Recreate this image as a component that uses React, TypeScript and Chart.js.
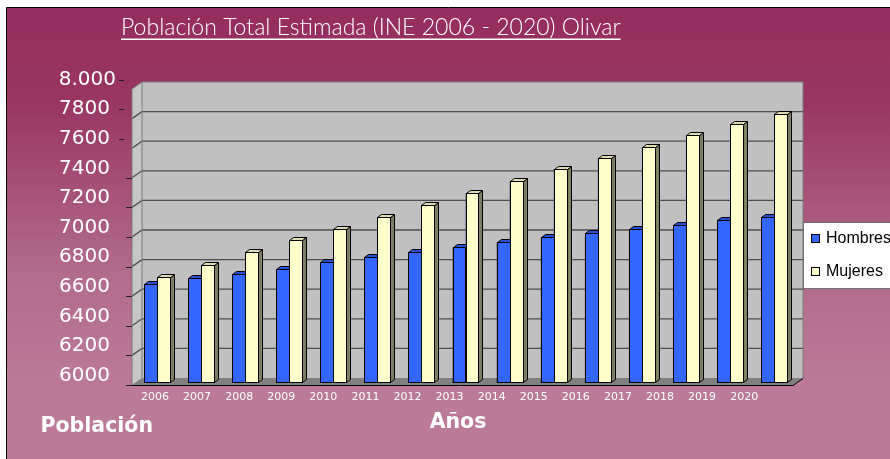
import React, { useEffect, useRef } from "react";
import { Chart, registerables } from "chart.js";

Chart.register(...registerables);

const years = ["2006", "2007", "2008", "2009", "2010", "2011", "2012", "2013", "2014", "2015", "2016", "2017", "2018", "2019", "2020"];
const hombres = [6669, 6707, 6739, 6770, 6815, 6850, 6886, 6917, 6953, 6984, 7016, 7038, 7070, 7103, 7122];
const mujeres = [6714, 6795, 6885, 6964, 7040, 7122, 7205, 7283, 7363, 7446, 7520, 7592, 7673, 7748, 7820];
const seriesNames = ["Hombres", "Mujeres"];
const yTickValues = [6000, 6200, 6400, 6600, 6800, 7000, 7200, 7400, 7600, 7800, 8000];
const yTickLabels = ["6000", "6200", "6400", "6600", "6800", "7000", "7200", "7400", "7600", "7800", "8.000"];
const titleText = "Población Total Estimada (INE 2006 - 2020) Olivar";
const yAxisTitle = "Población";
const xAxisTitle = "Años";

const W = 890;
const H = 459;

const frontColors = ["#3366FF", "#FFFFCC"];
const topColors = ["#2650D6", "#DCDCAE"];
const sideColors = ["#1B3A9E", "#7E7E60"];

// 3D offsets (pixels) of the walls relative to the bar plane
const FRONT_DX = -3, FRONT_DY = 2;
const BACK_DX = 7, BACK_DY = -5;
const BAR_DX = 4, BAR_DY = -3;

const decorPlugin = {
  id: "decor3d",
  beforeDraw(chart: any) {
    const ctx = chart.ctx as CanvasRenderingContext2D;
    const ca = chart.chartArea;
    const ys = chart.scales.y;
    const xs = chart.scales.x;
    ctx.save();
    // page background
    ctx.fillStyle = "#FFFFFF";
    ctx.fillRect(0, 0, W, H);
    const g = ctx.createLinearGradient(0, 8, 0, 390);
    g.addColorStop(0, "#952D5E");
    g.addColorStop(0.25, "#993663");
    g.addColorStop(0.7, "#B26C8E");
    g.addColorStop(1, "#BC7A99");
    ctx.fillStyle = g;
    ctx.fillRect(6, 8, W - 6, H - 8);
    ctx.strokeStyle = "#000";
    ctx.lineWidth = 1;
    ctx.beginPath();
    ctx.moveTo(6.5, H);
    ctx.lineTo(6.5, 7.5);
    ctx.lineTo(W, 7.5);
    ctx.stroke();

    // title (underlined)
    ctx.fillStyle = "#FFFFFF";
    ctx.textBaseline = "alphabetic";
    ctx.textAlign = "left";
    let fs = 20;
    ctx.font = `300 ${fs}px Lato, "DejaVu Sans", sans-serif`;
    const tw0 = ctx.measureText(titleText).width;
    fs = fs * 500 / tw0;
    ctx.font = `300 ${fs}px Lato, "DejaVu Sans", sans-serif`;
    const tw = ctx.measureText(titleText).width;
    const tx = 121;
    ctx.fillText(titleText, tx, 35);
    ctx.fillRect(tx, 38.5, tw, 1.5);

    const y6 = ys.getPixelForValue(6000);
    const y8 = ys.getPixelForValue(8000);
    const fl = ca.left + FRONT_DX, fr = ca.right + FRONT_DX;
    const bl = ca.left + BACK_DX, br = ca.right + BACK_DX;

    // back wall
    ctx.fillStyle = "#C0C0C0";
    ctx.fillRect(bl, y8 + BACK_DY, br - bl, y6 - y8);
    // left wall
    ctx.fillStyle = "#C6C6C6";
    ctx.beginPath();
    ctx.moveTo(fl, y8 + FRONT_DY);
    ctx.lineTo(bl, y8 + BACK_DY);
    ctx.lineTo(bl, y6 + BACK_DY);
    ctx.lineTo(fl, y6 + FRONT_DY);
    ctx.closePath();
    ctx.fill();
    // floor
    ctx.fillStyle = "#808080";
    ctx.beginPath();
    ctx.moveTo(fl, y6 + FRONT_DY);
    ctx.lineTo(fr, y6 + FRONT_DY);
    ctx.lineTo(br, y6 + BACK_DY);
    ctx.lineTo(bl, y6 + BACK_DY);
    ctx.closePath();
    ctx.fill();

    // gridlines
    ctx.strokeStyle = "#4E4E4E";
    ctx.lineWidth = 1.3;
    yTickValues.forEach((v) => {
      if (v === 6000 || v === 8000) return;
      const yy = ys.getPixelForValue(v);
      ctx.beginPath();
      ctx.moveTo(fl, yy + FRONT_DY);
      ctx.lineTo(bl, yy + BACK_DY);
      ctx.lineTo(br, yy + BACK_DY);
      ctx.stroke();
    });
    // wall borders
    ctx.strokeStyle = "#7A7A7A";
    ctx.lineWidth = 1;
    ctx.beginPath();
    ctx.moveTo(fl, y6 + FRONT_DY);
    ctx.lineTo(fl, y8 + FRONT_DY);
    ctx.lineTo(bl, y8 + BACK_DY);
    ctx.lineTo(br, y8 + BACK_DY);
    ctx.lineTo(br, y6 + BACK_DY);
    ctx.moveTo(bl, y8 + BACK_DY);
    ctx.lineTo(bl, y6 + BACK_DY);
    ctx.stroke();
    // axis line at bottom
    ctx.strokeStyle = "#000";
    ctx.lineWidth = 1;
    ctx.beginPath();
    ctx.moveTo(fl - 6, y6 + FRONT_DY + 0.5);
    ctx.lineTo(fr, y6 + FRONT_DY + 0.5);
    ctx.lineTo(br, y6 + BACK_DY + 0.5);
    ctx.stroke();

    // y tick labels and tick marks
    ctx.font = `20px "DejaVu Sans", Verdana, sans-serif`;
    ctx.textBaseline = "middle";
    ctx.textAlign = "right";
    yTickValues.forEach((v, i) => {
      const yy = ys.getPixelForValue(v);
      const ly = yy - 7.5;
      const rx = v === 8000 ? 116 : 110;
      ctx.fillStyle = "#FFFFFF";
      ctx.fillText(yTickLabels[i], rx, ly);
      ctx.strokeStyle = "#222";
      ctx.lineWidth = 1;
      ctx.beginPath();
      if (v >= 7600) {
        ctx.moveTo(119, Math.round(ly) + 0.5);
        ctx.lineTo(124, Math.round(ly) + 0.5);
      } else {
        ctx.moveTo(fl - 6, Math.round(yy + FRONT_DY) + 0.5);
        ctx.lineTo(fl, Math.round(yy + FRONT_DY) + 0.5);
      }
      ctx.stroke();
    });

    // x tick labels
    ctx.font = `11px "DejaVu Sans", Verdana, sans-serif`;
    ctx.textAlign = "center";
    ctx.fillStyle = "#FFFFFF";
    const x0 = xs.getPixelForValue(0);
    years.forEach((yr, i) => {
      const xi = xs.getPixelForValue(i);
      ctx.fillText(yr, x0 - 2 + (xi - x0) * 0.955, 397);
    });

    // axis titles
    ctx.font = `bold 20.5px "DejaVu Sans", Verdana, sans-serif`;
    ctx.textBaseline = "alphabetic";
    ctx.textAlign = "left";
    ctx.fillText(yAxisTitle, 40.5, 432);
    ctx.textAlign = "center";
    ctx.fillText(xAxisTitle, 458, 428);

    // legend
    ctx.fillStyle = "#FFFFFF";
    ctx.fillRect(803.5, 222.5, 100, 66);
    ctx.strokeStyle = "#6E6E6E";
    ctx.lineWidth = 1;
    ctx.strokeRect(803.5, 222.5, 100, 66);
    ctx.font = `16px "Liberation Sans", Arial, sans-serif`;
    ctx.textAlign = "left";
    ctx.textBaseline = "middle";
    chart.data.datasets.forEach((ds: any, k: number) => {
      const cy = k === 0 ? 238.5 : 271.5;
      ctx.fillStyle = ds.backgroundColor;
      ctx.fillRect(811.5, cy - 4, 8, 8);
      ctx.strokeStyle = "#000";
      ctx.strokeRect(811.5, cy - 4, 8, 8);
      ctx.fillStyle = "#000";
      ctx.fillText(ds.label, 826, cy + 0.5);
    });
    ctx.restore();
  },
  afterDatasetsDraw(chart: any) {
    const ctx = chart.ctx as CanvasRenderingContext2D;
    const ys = chart.scales.y;
    const floorY = ys.getPixelForValue(6000);
    ctx.save();
    ctx.strokeStyle = "#000";
    ctx.lineWidth = 1;
    ctx.lineJoin = "miter";
    const n = chart.data.labels.length;
    for (let i = 0; i < n; i++) {
      chart.data.datasets.forEach((_ds: any, d: number) => {
        const el = chart.getDatasetMeta(d).data[i] as any;
        const { x, y, width, base } = el.getProps(["x", "y", "width", "base"], true);
        const l = Math.round(x - width / 2) + 0.5;
        const r = Math.round(x + width / 2) + 0.5;
        const t = Math.round(y) + 0.5;
        const b = Math.round(Math.min(base, floorY)) - 0.5;
        // side
        ctx.fillStyle = sideColors[d];
        ctx.beginPath();
        ctx.moveTo(r, t);
        ctx.lineTo(r + BAR_DX, t + BAR_DY);
        ctx.lineTo(r + BAR_DX, b + BAR_DY);
        ctx.lineTo(r, b);
        ctx.closePath();
        ctx.fill();
        ctx.stroke();
        // top
        ctx.fillStyle = topColors[d];
        ctx.beginPath();
        ctx.moveTo(l, t);
        ctx.lineTo(l + BAR_DX, t + BAR_DY);
        ctx.lineTo(r + BAR_DX, t + BAR_DY);
        ctx.lineTo(r, t);
        ctx.closePath();
        ctx.fill();
        ctx.stroke();
        // front
        ctx.fillStyle = frontColors[d];
        ctx.fillRect(l, t, r - l, b - t);
        ctx.strokeRect(l, t, r - l, b - t);
      });
    }
    ctx.restore();
  },
};

export default function App() {
  const ref = useRef<HTMLCanvasElement | null>(null);
  useEffect(() => {
    if (!ref.current) return;
    const chart = new Chart(ref.current, {
      type: "bar",
      data: {
        labels: years,
        datasets: [
          { label: seriesNames[0], data: hombres, base: 6000, backgroundColor: frontColors[0], borderColor: "#000", borderWidth: 1 },
          { label: seriesNames[1], data: mujeres, base: 6000, backgroundColor: frontColors[1], borderColor: "#000", borderWidth: 1 },
        ],
      } as any,
      options: {
        responsive: false,
        animation: false,
        events: [],
        layout: { padding: { left: 135, right: 94, top: 87, bottom: 76 } },
        datasets: { bar: { categoryPercentage: 0.59, barPercentage: 1 } },
        scales: {
          x: { display: false, offset: true, grid: { display: false } },
          y: { display: false, min: 6000, max: 8000 },
        },
        plugins: {
          legend: { display: false },
          tooltip: { enabled: false },
          title: { display: false },
        },
      },
      plugins: [decorPlugin],
    });
    return () => chart.destroy();
  }, []);
  return (
    <div style={{ position: "absolute", left: 0, top: 0, width: W, height: H }}>
      <canvas ref={ref} width={W} height={H} style={{ width: W, height: H, display: "block" }} />
    </div>
  );
}
